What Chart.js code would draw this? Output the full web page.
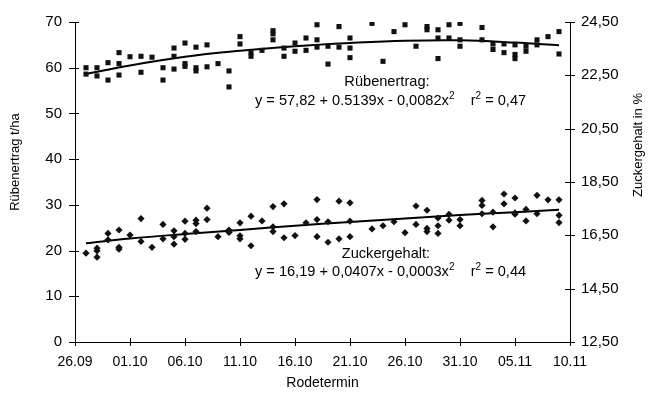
<!DOCTYPE html>
<html><head><meta charset="utf-8">
<script src="https://cdn.jsdelivr.net/npm/chart.js@4.4.0/dist/chart.umd.min.js"></script>
<style>html,body{margin:0;padding:0;background:#fff}#wrap{width:651px;height:396px}</style>
</head><body><div id="wrap"><canvas id="c" width="651" height="396"></canvas></div>
<script>
const dateLabels = ['26.09','01.10','06.10','11.10','16.10','21.10','26.10','31.10','05.11','10.11'];
const dateTickDays = [0,5,10,15,20,25,30,35,40,45];
const yieldTicks = [0,10,20,30,40,50,60,70];
const sugarTicks = [12.5,14.5,16.5,18.5,20.5,22.5,24.5];

const yieldDays = [
 1,1, 2,2, 3,3, 4,4,4, 5, 6,6, 7, 8,8, 9,9,9, 10,10,10, 11,11,11, 12,12, 13, 14,14,
 15,15, 16,16, 17, 18,18,18, 19,19, 20,20, 21,21, 22,22,22, 23,23, 24,24, 25,25,25,
 27, 28, 29, 30, 31, 32,32, 33,33,33, 34,34, 35,35,35, 37,37, 38,38, 39,39, 40,40,40,
 41,41, 42,42, 43, 44,44];
const yieldValues = [
 60.0,58.6, 60.0,58.2, 61.1,57.3, 63.3,60.9,58.4, 62.4, 62.5,59.0, 62.3, 60.0,57.3,
 64.3,62.5,59.7, 65.4,60.9,60.3, 64.5,60.0,59.3, 65.0,60.2, 60.9, 59.3,55.8,
 66.8,65.2, 63.3,62.5, 63.8, 68.1,67.4,66.1, 64.3,62.5, 65.4,63.6, 66.5,63.8,
 69.4,66.1,64.5, 64.7,60.8, 69.0,64.5, 66.5,64.3,62.2,
 69.7, 61.4, 67.9, 69.4, 64.7, 69.0,68.3, 68.3,66.5,62.0, 69.4,66.5, 69.7,66.1,64.7,
 68.8,66.1, 65.2,64.0, 65.2,63.3, 65.0,62.9,62.0, 64.7,63.6, 66.1,65.0, 66.8, 67.9,63.0];

const sugarDays = [
 1, 2,2,2, 3,3, 4,4,4, 5, 6,6, 7, 8,8, 9,9,9, 10,10,10, 11,11,11, 12,12, 13, 14,14,
 15,15,15, 16,16, 17, 18,18,18, 19,19, 20, 21, 22,22,22, 23,23, 24,24, 25,25,25,
 27, 28, 29, 30, 31,31, 32,32,32, 33,33,33, 34,34, 35,35, 37,37,37, 38,38, 39,39,
 40,40,40, 41,41, 42,42, 43, 44,44,44];
const sugarValues = [
 15.83, 16.02,15.92,15.68, 16.57,16.33, 16.70,16.05,15.98, 16.51, 17.13,16.27, 16.05,
 16.91,16.37, 16.67,16.45,16.17, 17.03,16.57,16.35, 17.07,16.94,16.64, 17.52,17.09,
 16.45, 16.70,16.61, 16.97,16.48,16.37, 17.22,16.11, 17.04, 17.58,16.82,16.64,
 17.68,16.41, 16.49, 16.97, 17.84,17.09,16.45, 17.01,16.24, 17.78,16.37, 17.72,17.03,16.45,
 16.74, 16.86, 17.01, 16.60, 17.60,16.91, 17.44,16.76,16.64, 17.15,16.86,16.57,
 17.29,17.07, 17.09,16.86, 17.81,17.62,17.31, 17.37,16.82, 18.05,17.68,
 17.90,17.34,17.29, 17.47,17.04, 18.00,17.31, 17.83, 17.83,17.25,16.98];

const trendDays = [1,5,10,15,20,25,30,35,40,44];
const yieldTrend = [58.6,60.5,62.4,63.7,64.7,65.4,65.9,66.0,65.5,64.9];
const sugarTrend = [16.20,16.38,16.55,16.70,16.86,17.00,17.13,17.26,17.37,17.46];

const FONT = '"Liberation Sans", Arial, sans-serif';
const toPts = (xs, ys) => xs.map((x, i) => ({x: x, y: ys[i]}));

const annotations = [
  {axis:'yL', day:28.36, val:56.86, align:'center', parts:[{t:'Rübenertrag:'}]},
  {axis:'yL', day:16.36, val:52.77, align:'left', parts:[{t:'y = 57,82 + 0.5139x - 0,0082x'},{t:'2',sup:true},{t:'    r'},{t:'2',sup:true},{t:' = 0,47'}]},
  {axis:'yR', day:28.27, val:15.79, align:'center', parts:[{t:'Zuckergehalt:'}]},
  {axis:'yR', day:16.36, val:15.12, align:'left', parts:[{t:'y = 16,19 + 0,0407x - 0,0003x'},{t:'2',sup:true},{t:'    r'},{t:'2',sup:true},{t:' = 0,44'}]}
];

const decor = {
  id: 'decor',
  afterDraw(chart) {
    const ctx = chart.ctx;
    const xs = chart.scales.x, yl = chart.scales.yL, yr = chart.scales.yR;
    const ca = chart.chartArea;
    ctx.save();
    ctx.strokeStyle = '#000';
    ctx.lineWidth = 1;
    ctx.beginPath();
    dateTickDays.forEach(d => {
      const p = Math.round(xs.getPixelForValue(d)) + 0.5;
      ctx.moveTo(p, ca.bottom - 4); ctx.lineTo(p, ca.bottom + 4);
    });
    yieldTicks.forEach(v => {
      const p = Math.round(yl.getPixelForValue(v)) + 0.5;
      ctx.moveTo(ca.left - 6, p); ctx.lineTo(ca.left + 4, p);
    });
    sugarTicks.forEach(v => {
      const p = Math.round(yr.getPixelForValue(v)) + 0.5;
      ctx.moveTo(ca.right - 5, p); ctx.lineTo(ca.right + 5, p);
    });
    ctx.stroke();

    // annotations
    ctx.fillStyle = '#000';
    ctx.textBaseline = 'middle';
    annotations.forEach(a => {
      const ys = a.axis === 'yL' ? yl : yr;
      let x = xs.getPixelForValue(a.day);
      const y = ys.getPixelForValue(a.val);
      const widths = a.parts.map(p => {
        ctx.font = (p.sup ? '10px ' : '14.6px ') + FONT;
        return ctx.measureText(p.t).width;
      });
      const total = widths.reduce((s, w) => s + w, 0);
      if (a.align === 'center') x -= total / 2;
      a.parts.forEach((p, i) => {
        ctx.font = (p.sup ? '10px ' : '14.6px ') + FONT;
        ctx.textAlign = 'left';
        ctx.fillText(p.t, x, p.sup ? y - 5 : y);
        x += widths[i];
      });
    });

    // y axis titles
    ctx.font = '13px ' + FONT;
    ctx.textAlign = 'center';
    ctx.save();
    ctx.translate(15, 162);
    ctx.rotate(-Math.PI / 2);
    ctx.fillText('Rübenertrag t/ha', 0, 0);
    ctx.restore();
    ctx.save();
    ctx.translate(638, 145);
    ctx.rotate(-Math.PI / 2);
    ctx.fillText('Zuckergehalt in %', 0, 0);
    ctx.restore();
    ctx.restore();
  }
};

new Chart(document.getElementById('c'), {
  type: 'scatter',
  data: {
    datasets: [
      {label:'Rübenertrag', data: toPts(yieldDays, yieldValues), yAxisID:'yL',
       pointStyle:'rect', pointRadius:3.6, backgroundColor:'#111', borderColor:'#111', borderWidth:0},
      {label:'Zuckergehalt', data: toPts(sugarDays, sugarValues), yAxisID:'yR',
       pointStyle:'rectRot', pointRadius:3.6, backgroundColor:'#111', borderColor:'#111', borderWidth:0},
      {label:'Trend Rübenertrag', type:'line', data: toPts(trendDays, yieldTrend), yAxisID:'yL',
       showLine:true, pointRadius:0, borderColor:'#000', borderWidth:2, tension:0.4, fill:false},
      {label:'Trend Zuckergehalt', type:'line', data: toPts(trendDays, sugarTrend), yAxisID:'yR',
       showLine:true, pointRadius:0, borderColor:'#000', borderWidth:2, tension:0.4, fill:false}
    ]
  },
  options: {
    responsive: false,
    animation: false,
    devicePixelRatio: 1,
    layout: {padding: {top: 17, left: 0, right: 0, bottom: 0}},
    plugins: {legend: {display: false}, tooltip: {enabled: false}},
    scales: {
      x: {
        type: 'linear', min: 0, max: 45,
        afterBuildTicks: s => { s.ticks = dateTickDays.map(v => ({value: v})); },
        afterFit: s => { s.height = 54; },
        grid: {display: true, drawOnChartArea: false, drawTicks: false},
        border: {display: true, color: '#000', width: 1},
        ticks: {color: '#000', font: {family: FONT, size: 14}, padding: 12, maxRotation: 0,
          callback: (v) => dateLabels[dateTickDays.indexOf(v)]},
        title: {display: true, text: 'Rodetermin', color: '#000', font: {family: FONT, size: 14}, padding: {top: 4, bottom: 4}}
      },
      yL: {
        position: 'left', min: 0, max: 70,
        afterBuildTicks: s => { s.ticks = yieldTicks.map(v => ({value: v})); },
        afterFit: s => { s.width = 75; },
        grid: {display: true, drawOnChartArea: false, drawTicks: false},
        border: {display: true, color: '#000', width: 1},
        ticks: {color: '#000', font: {family: FONT, size: 15}, padding: 13}
      },
      yR: {
        position: 'right', min: 12.5, max: 24.5,
        afterBuildTicks: s => { s.ticks = sugarTicks.map(v => ({value: v})); },
        afterFit: s => { s.width = 81; },
        grid: {display: true, drawOnChartArea: false, drawTicks: false},
        border: {display: true, color: '#000', width: 1},
        ticks: {color: '#000', font: {family: FONT, size: 15}, padding: 11,
          callback: v => v.toFixed(2).replace('.', ',')}
      }
    }
  },
  plugins: [decor]
});
</script>
</body></html>
